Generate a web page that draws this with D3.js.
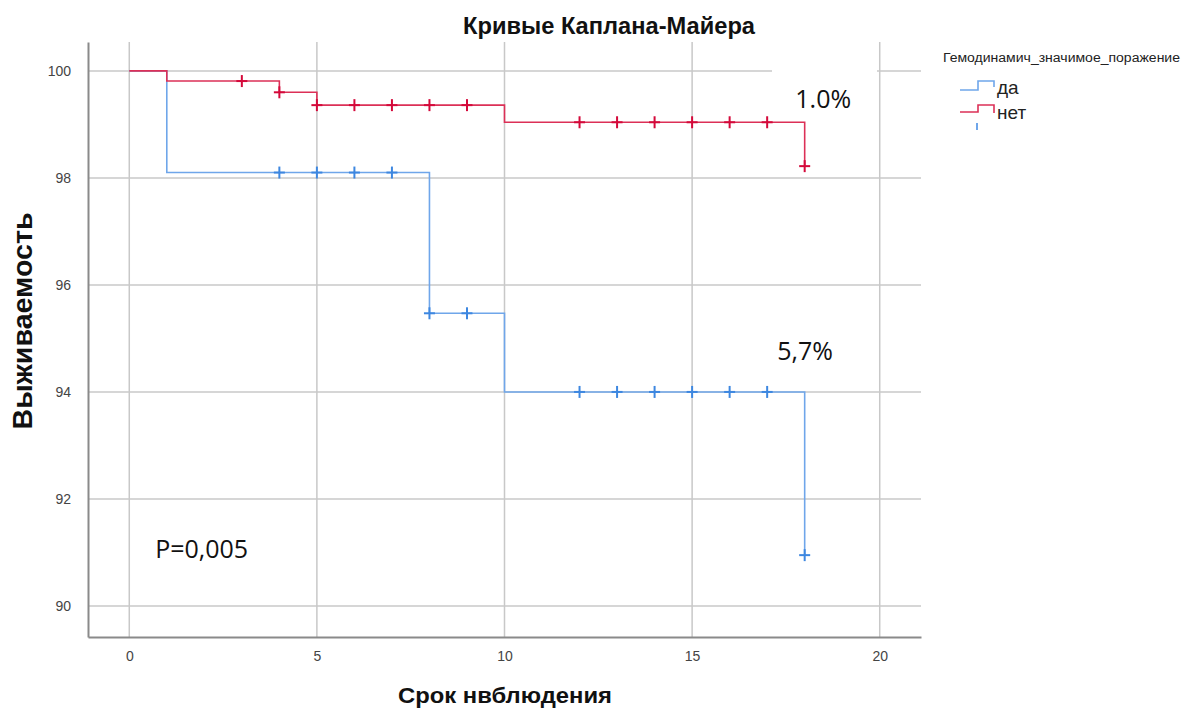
<!DOCTYPE html>
<html><head><meta charset="utf-8">
<script src="https://cdn.jsdelivr.net/npm/d3@7"></script>
<style>body{margin:0;background:#fff;} svg{display:block;}</style>
</head><body>
<svg id="c" width="1182" height="709"></svg>
<script>
// ---- data ----
const groups = ["да", "нет"];
// step curves: [time, survival] points where survival changes
const stepsDa  = [[0,100],[1,98.1],[8,95.47],[10,94.0],[18,90.95]];
const stepsNet = [[0,100],[1,99.81],[4,99.6],[5,99.36],[10,99.04],[18,98.22]];
// censored observations [time, survival]
const censDa  = [[4,98.1],[5,98.1],[6,98.1],[7,98.1],[8,95.47],[9,95.47],[12,94.0],[13,94.0],[14,94.0],[15,94.0],[16,94.0],[17,94.0],[18,90.95]];
const censNet = [[3,99.81],[4,99.6],[5,99.36],[6,99.36],[7,99.36],[8,99.36],[9,99.36],[12,99.04],[13,99.04],[14,99.04],[15,99.04],[16,99.04],[17,99.04],[18,98.22]];
const xTicks = [0,5,10,15,20];
const yTicks = [90,92,94,96,98,100];
const annotations = [
  {text:"1.0%", t:17.75, s:99.31},
  {text:"5,7%", t:17.27, s:94.6},
  {text:"P=0,005", t:0.69, s:90.9}
];

const svg = d3.select("#c");
const L = 88, R = 921, T = 42, B = 637;
const x = d3.scaleLinear().domain([-1.1, 21.1]).range([L, R]);
const y = d3.scaleLinear().domain([89.42, 100.54]).range([B, T]);

// gridlines
const g = svg.append("g");
g.selectAll("line.vx").data(xTicks).join("line")
  .attr("x1", d=>x(d)).attr("x2", d=>x(d)).attr("y1", T).attr("y2", B)
  .attr("stroke", "#c8c8c8").attr("stroke-width", 1.5);
g.selectAll("line.hy").data(yTicks).join("line")
  .attr("x1", L).attr("x2", R).attr("y1", d=>y(d)).attr("y2", d=>y(d))
  .attr("stroke", "#c8c8c8").attr("stroke-width", 1.5);

// axes
const xAxis = d3.axisBottom(x).tickValues(xTicks).tickSize(0).tickPadding(14);
const yAxis = d3.axisLeft(y).tickValues(yTicks).tickSize(0).tickPadding(17);
const ax = svg.append("g").attr("transform", `translate(0,${B})`).call(xAxis);
const ay = svg.append("g").attr("transform", `translate(${L},0)`).call(yAxis);
[ax, ay].forEach(a => {
  a.select(".domain").attr("stroke", "#8a8a8a").attr("stroke-width", 2);
  a.selectAll("text").attr("font-family", "Liberation Sans, Arial, sans-serif")
    .attr("font-size", 14).attr("fill", "#444");
});

// step curves
const line = d3.line().x(d=>x(d[0])).y(d=>y(d[1])).curve(d3.curveStepAfter);
function curve(steps, color, mColor, cens) {
  svg.append("path").datum(steps).attr("d", line)
    .attr("fill", "none").attr("stroke", color).attr("stroke-width", 1.6);
  const m = svg.append("g");
  m.selectAll("line.h").data(cens).join("line")
    .attr("x1", d=>x(d[0])-5.5).attr("x2", d=>x(d[0])+5.5)
    .attr("y1", d=>y(d[1])).attr("y2", d=>y(d[1]))
    .attr("stroke", mColor).attr("stroke-width", 2);
  m.selectAll("line.v").data(cens).join("line")
    .attr("x1", d=>x(d[0])).attr("x2", d=>x(d[0]))
    .attr("y1", d=>y(d[1])-6).attr("y2", d=>y(d[1])+6)
    .attr("stroke", mColor).attr("stroke-width", 2);
}
curve(stepsDa, "#6fa6ea", "#3d87e0", censDa);
curve(stepsNet, "#dc3057", "#d4093a", censNet);

// annotation text boxes
svg.append("rect").attr("x", 772).attr("y", 62).attr("width", 105).attr("height", 16).attr("fill", "#fff");
annotations.forEach((a) => {
  svg.append("text").attr("x", x(a.t)).attr("y", y(a.s)).text(a.text)
    .attr("font-family", "Open Sans, Liberation Sans, sans-serif").attr("font-size", 25).attr("fill", "#111");
});

// titles
svg.append("text").attr("x", 609).attr("y", 34).attr("text-anchor", "middle")
  .attr("font-family", "Liberation Sans, Arial, sans-serif").attr("font-weight", "bold")
  .attr("font-size", 23).attr("fill", "#111")
  .attr("textLength", 292).attr("lengthAdjust", "spacingAndGlyphs").text("Кривые Каплана-Майера");
svg.append("text").attr("transform", "translate(32,321) rotate(-90)").attr("text-anchor", "middle")
  .attr("font-family", "Liberation Sans, Arial, sans-serif").attr("font-weight", "bold")
  .attr("font-size", 27).attr("fill", "#111")
  .attr("textLength", 217).attr("lengthAdjust", "spacingAndGlyphs").text("Выживаемость");
svg.append("text").attr("x", 505).attr("y", 703).attr("text-anchor", "middle")
  .attr("font-family", "Liberation Sans, Arial, sans-serif").attr("font-weight", "bold")
  .attr("font-size", 22).attr("fill", "#111")
  .attr("textLength", 214).attr("lengthAdjust", "spacingAndGlyphs").text("Срок нвблюдения");

// legend
const lg = svg.append("g");
lg.append("text").attr("x", 943).attr("y", 62).text("Гемодинамич_значимое_поражение")
  .attr("font-family", "Liberation Sans, Arial, sans-serif").attr("font-size", 12).attr("fill", "#222")
  .attr("textLength", 237).attr("lengthAdjust", "spacingAndGlyphs");
const lcol = ["#6fa6ea", "#dc3057"];
const lstep = [[90, 81, 87], [112, 105, 113]];
groups.forEach((gname, i) => {
  const [lo, hi, end] = lstep[i];
  lg.append("path").attr("d", `M960,${lo}H978V${hi}H994V${end}`)
    .attr("fill", "none").attr("stroke", lcol[i]).attr("stroke-width", 1.6);
  lg.append("text").attr("x", 997).attr("y", i === 0 ? 94 : 119).text(gname)
    .attr("font-family", "Liberation Sans, Arial, sans-serif").attr("font-size", 19).attr("fill", "#222");
});
lg.append("line").attr("x1", 977).attr("x2", 977).attr("y1", 123).attr("y2", 130)
  .attr("stroke", "#6fa6ea").attr("stroke-width", 2);
</script>
</body></html>
